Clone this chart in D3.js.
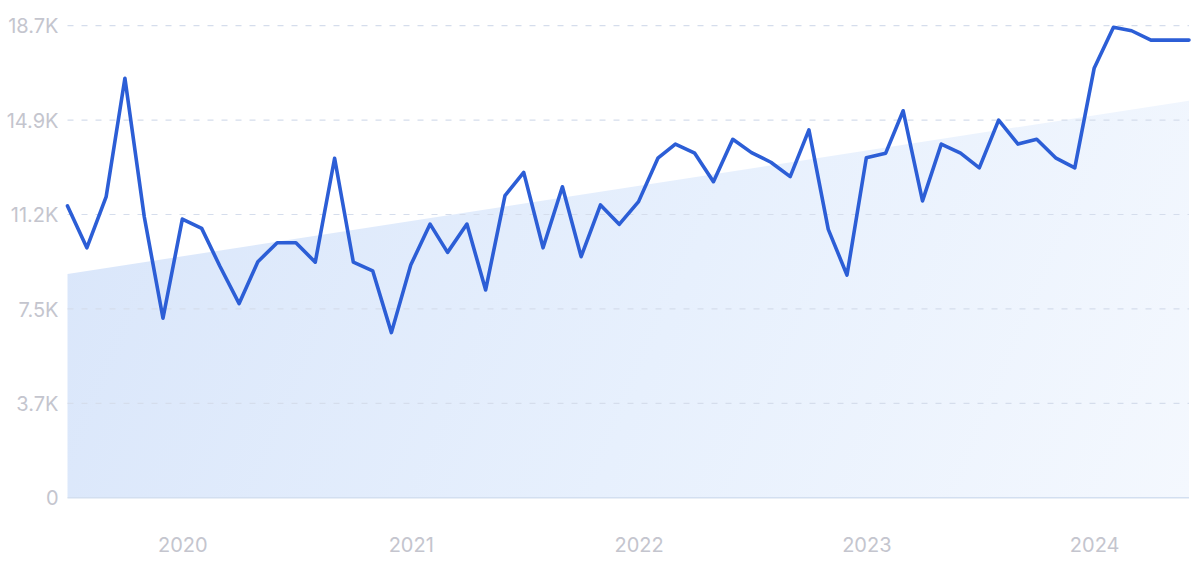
<!DOCTYPE html>
<html>
<head>
<meta charset="utf-8">
<script src="https://cdn.jsdelivr.net/npm/d3@7/dist/d3.min.js"></script>
<style>
  html, body { margin: 0; padding: 0; background: #ffffff; }
  svg { display: block; }
  text { font-family: Inter, "Noto Sans", sans-serif; }
</style>
</head>
<body>
<svg id="chart" width="1200" height="564"></svg>
<script>
// ---- data ----
const startMonth = "2019-07";
const values = [
  11560, 9900, 11930, 16620, 11130, 7110, 11040, 10670, 9180, 7690, 9350, 10100,
  10100, 9330, 13450, 9330, 8990, 6540, 9220, 10840, 9720, 10840, 8230, 11970,
  12890, 9900, 12320, 9550, 11600, 10830, 11730, 13450, 14010, 13650, 12520, 14200,
  13670, 13290, 12720, 14570, 10630, 8820, 13470, 13650, 15330, 11760, 14010, 13650,
  13070, 14960, 14010, 14200, 13450, 13070, 17010, 18640, 18500, 18130, 18130, 18130
];
const trendStart = 8860;
const trendEnd = 15730;
const yTickValues = [0, 3740, 7480, 11220, 14960, 18700];
const yTickLabels = ["0", "3.7K", "7.5K", "11.2K", "14.9K", "18.7K"];
const xTickLabels = ["2020", "2021", "2022", "2023", "2024"];

// ---- build ----
(function () {
const parse = d3.timeParse("%Y-%m");
const t0 = parse(startMonth);
const dates = values.map((v, i) => d3.timeMonth.offset(t0, i));
const data = values.map((v, i) => ({ date: dates[i], value: v }));

const svg = d3.select("#chart");
const L = 67.5, R = 1189, T = 25.7, B = 497.7;

const x = d3.scaleTime().domain([dates[0], dates[dates.length - 1]]).range([L, R]);
const y = d3.scaleLinear().domain([0, 18700]).range([B, T]);

const defs = svg.append("defs");
const grad = defs.append("linearGradient")
  .attr("id", "areaGrad")
  .attr("gradientUnits", "userSpaceOnUse")
  .attr("x1", L).attr("y1", T).attr("x2", R).attr("y2", B);
grad.append("stop").attr("offset", "0%").attr("stop-color", "#d8e5fa");
grad.append("stop").attr("offset", "55%").attr("stop-color", "#e7f0fd");
grad.append("stop").attr("offset", "100%").attr("stop-color", "#f4f8fe");

// trend area
const trendData = [
  { date: dates[0], value: trendStart },
  { date: dates[dates.length - 1], value: trendEnd }
];
svg.append("path")
  .datum(trendData)
  .attr("fill", "url(#areaGrad)")
  .attr("d", d3.area().x(d => x(d.date)).y0(y(0)).y1(d => y(d.value)));

// gridlines
svg.append("g").selectAll("line.grid")
  .data(yTickValues.filter(v => v > 0))
  .join("line")
  .attr("class", "grid")
  .attr("x1", L).attr("x2", R)
  .attr("y1", d => y(d)).attr("y2", d => y(d))
  .attr("stroke", "#d5ddec")
  .attr("stroke-width", 1.2)
  .attr("stroke-dasharray", "6,8");

// baseline
svg.append("line")
  .attr("x1", L).attr("x2", R)
  .attr("y1", y(0)).attr("y2", y(0))
  .attr("stroke", "#d3dff0")
  .attr("stroke-width", 1.5);

const yAxis = d3.axisLeft(y)
  .tickValues(yTickValues)
  .tickFormat((d, i) => yTickLabels[i])
  .tickSize(0)
  .tickPadding(0);
const gYAxis = svg.append("g")
  .attr("transform", `translate(${L - 9},0)`)
  .call(yAxis);
gYAxis.select(".domain").remove();
gYAxis.selectAll("text")
  .attr("fill", "#c4c5ce")
  .attr("font-size", "20px")
  .attr("dy", "0.36em");

// x axis
const xTickDates = xTickLabels.map(s => d3.timeParse("%Y")(s));
const xAxis = d3.axisBottom(x)
  .tickValues(xTickDates)
  .tickFormat((d, i) => xTickLabels[i])
  .tickSize(0)
  .tickPadding(0);
const gX = svg.append("g")
  .attr("transform", `translate(0,${y(0)})`)
  .call(xAxis);
gX.select(".domain").remove();
gX.selectAll("text")
  .attr("fill", "#c4c5ce")
  .attr("font-size", "20px")
  .attr("y", 47.5)
  .attr("dy", "0.36em");

// line
svg.append("path")
  .datum(data)
  .attr("fill", "none")
  .attr("stroke", "#2c5ed6")
  .attr("stroke-width", 3.6)
  .attr("stroke-linejoin", "round")
  .attr("stroke-linecap", "round")
  .attr("d", d3.line().x(d => x(d.date)).y(d => y(d.value)));
})();
</script>
</body>
</html>
